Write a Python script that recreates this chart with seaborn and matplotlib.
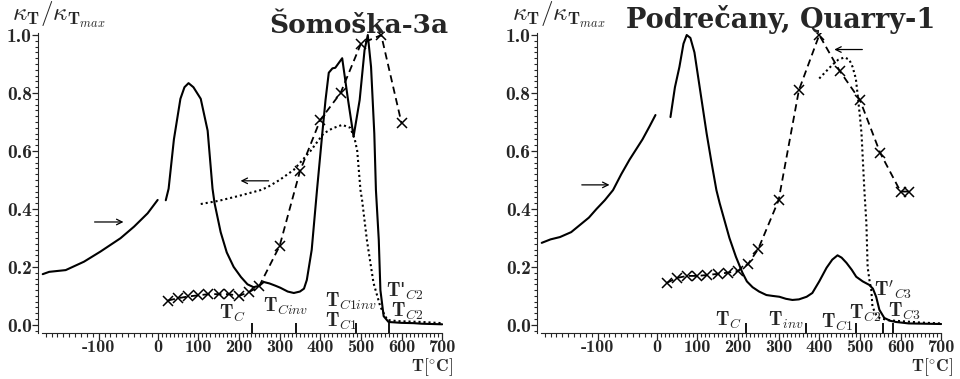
import numpy as np
import matplotlib
matplotlib.use("Agg")
import matplotlib.pyplot as plt
import seaborn as sns

# --- data (T in degC, kappa normalised) ---
# Somoska-3a
s_low_T = [-195, -184, -156, -125, -97, -63, -40, -17, 0]
s_low_k = [0.175, 0.183, 0.189, 0.218, 0.253, 0.299, 0.339, 0.385, 0.431]
s_heat_T = [20, 27, 40, 56, 66, 76, 88, 106, 123, 135, 140, 155, 170, 187, 205, 221, 236, 250,
            261, 275, 290, 302, 320, 335, 350, 360, 367, 379, 392, 405, 413, 421, 430, 437, 454,
            468, 482, 497, 509, 517, 525, 533, 537, 544, 548, 556, 568, 600, 630, 650, 700]
s_heat_k = [0.43, 0.47, 0.64, 0.78, 0.82, 0.834, 0.82, 0.78, 0.67, 0.47, 0.42, 0.32, 0.25, 0.2, 0.165,
            0.14, 0.13, 0.135, 0.148, 0.143, 0.135, 0.128, 0.115, 0.11, 0.115, 0.125, 0.155, 0.259,
            0.465, 0.66, 0.776, 0.87, 0.885, 0.887, 0.92, 0.78, 0.65, 0.776, 0.948, 1.0, 0.89, 0.66,
            0.465, 0.293, 0.12, 0.03, 0.01, 0.007, 0.006, 0.004, 0.002]
s_cool_T = [106, 150, 200, 253, 270, 300, 335, 376, 408, 430, 454, 474, 485, 491, 499, 503, 515,
            531, 548, 565, 590, 650, 700]
s_cool_k = [0.417, 0.428, 0.445, 0.465, 0.475, 0.5, 0.535, 0.6, 0.66, 0.678, 0.69, 0.68, 0.64, 0.6,
            0.465, 0.43, 0.29, 0.145, 0.062, 0.017, 0.013, 0.01, 0.006]
s_mark_T = [25, 50, 75, 100, 125, 150, 175, 200, 225, 250, 300, 350, 400, 450, 500, 550, 600]
s_mark_k = [0.084, 0.092, 0.098, 0.102, 0.106, 0.106, 0.106, 0.1, 0.113, 0.134, 0.272, 0.53, 0.707,
            0.80, 0.97, 1.0, 0.696]
s_tc = [231, 341, 487, 570]

# Podrecany, Quarry-1
p_low_T = [-195, -180, -164, -145, -130, -115, -102, -88, -74, -60, -46, -35, -24, -12, -2]
p_low_k = [0.283, 0.295, 0.303, 0.32, 0.345, 0.37, 0.40, 0.43, 0.465, 0.52, 0.57, 0.605, 0.64,
           0.685, 0.724]
p_heat_T = [34, 45, 56, 66, 74, 83, 93, 108, 123, 135, 147, 155, 167, 179, 195, 211, 222, 236, 252,
            270, 285, 302, 318, 334, 350, 369, 383, 400, 418, 432, 445, 455, 467, 480, 491, 507,
            523, 532, 540, 548, 560, 575, 589, 620, 660, 700]
p_heat_k = [0.717, 0.82, 0.89, 0.97, 1.0, 0.99, 0.94, 0.8, 0.66, 0.56, 0.465, 0.42, 0.36, 0.30,
            0.235, 0.18, 0.15, 0.13, 0.115, 0.103, 0.1, 0.097, 0.09, 0.086, 0.088, 0.097, 0.11,
            0.15, 0.197, 0.225, 0.24, 0.232, 0.214, 0.19, 0.166, 0.15, 0.138, 0.125, 0.097, 0.052,
            0.024, 0.014, 0.01, 0.005, 0.004, 0.003]
p_cool_T = [400, 415, 432, 447, 462, 474, 482, 490, 494, 500, 504, 511, 516, 519, 524, 528, 531,
            540, 548, 570, 600, 650, 700]
p_cool_k = [0.85, 0.872, 0.897, 0.915, 0.923, 0.915, 0.89, 0.85, 0.80, 0.72, 0.66, 0.465, 0.35,
            0.2, 0.15, 0.12, 0.062, 0.035, 0.024, 0.016, 0.013, 0.008, 0.005]
p_mark_T = [25, 50, 75, 100, 125, 150, 175, 200, 225, 250, 300, 350, 400, 450, 500, 550, 600, 620]
p_mark_k = [0.145, 0.162, 0.169, 0.169, 0.172, 0.176, 0.18, 0.186, 0.21, 0.262, 0.43, 0.81, 1.0,
            0.877, 0.776, 0.593, 0.46, 0.46]
p_tc = [219, 368, 491, 558, 582]

x_major = [-100, 0, 100, 200, 300, 400, 500, 600, 700]
y_major = [0.0, 0.2, 0.4, 0.6, 0.8, 1.0]

sns.set_style("ticks")
plt.rcParams["mathtext.fontset"] = "cm"
plt.rcParams["axes.unicode_minus"] = False

R = 1.45  # negative temperatures are stretched on the axis


def fwd(t):
    t = np.asarray(t, dtype=float)
    return np.where(t < 0, t * R, t)


def inv(u):
    u = np.asarray(u, dtype=float)
    return np.where(u < 0, u / R, u)


fig = plt.figure(figsize=(9.6, 3.79), dpi=100)
ax1 = fig.add_axes([38 / 960, 46 / 379, 405 / 960, 300 / 379])
ax2 = fig.add_axes([537 / 960, 46 / 379, 405 / 960, 300 / 379])

lw = 1.5
dot = (0, (1, 1.4))
dash = (0, (4, 2.5))


def panel(ax, lowT, lowk, heatT, heatk, coolT, coolk, markT, markk):
    sns.lineplot(x=lowT, y=lowk, ax=ax, color="k", lw=lw, sort=False, estimator=None)
    sns.lineplot(x=heatT, y=heatk, ax=ax, color="k", lw=lw, sort=False, estimator=None)
    sns.lineplot(x=coolT, y=coolk, ax=ax, color="k", lw=lw, linestyle=dot, sort=False, estimator=None)
    sns.lineplot(x=markT, y=markk, ax=ax, color="k", lw=1.3, linestyle=dash, marker="x",
                 markersize=6.5, markeredgecolor="k", markeredgewidth=1.1, sort=False, estimator=None)
    ax.set_xscale("function", functions=(fwd, inv))
    ax.set_xlim(-203, 702)
    ax.set_ylim(-0.028, 1.007)
    ax.set_xticks(x_major)
    ax.set_xticklabels([str(v) for v in x_major], fontfamily="cmb10", fontsize=13)
    ax.set_xticks([v for v in range(-190, 701, 10) if v % 100 != 0], minor=True)
    ax.set_yticks(y_major)
    ax.set_yticklabels(["%.1f" % v for v in y_major], fontfamily="cmb10", fontsize=14)
    ax.set_yticks(np.arange(-0.02, 1.001, 0.02), minor=True)
    ax.tick_params(axis="x", which="major", direction="out", length=5, width=0.9, pad=0)
    ax.tick_params(axis="x", which="minor", direction="out", length=3, width=0.8)
    ax.tick_params(axis="y", which="major", direction="out", length=4, width=0.9, pad=0.5)
    ax.tick_params(axis="y", which="minor", direction="out", length=2.5, width=0.8)
    ax.spines["bottom"].set_bounds(-196, 700)
    for s in ["top", "right"]:
        ax.spines[s].set_visible(False)
    ax.set_xlabel("")
    ax.set_ylabel("")
    ax.patch.set_alpha(0)


panel(ax1, s_low_T, s_low_k, s_heat_T, s_heat_k, s_cool_T, s_cool_k, s_mark_T, s_mark_k)
panel(ax2, p_low_T, p_low_k, p_heat_T, p_heat_k, p_cool_T, p_cool_k, p_mark_T, p_mark_k)

arr = dict(arrowstyle="->", lw=0.9, color="k", shrinkA=0, shrinkB=0)
ax1.annotate("", xy=(-58, 0.355), xytext=(-107, 0.355), arrowprops=arr)
ax1.annotate("", xy=(204, 0.497), xytext=(273, 0.497), arrowprops=arr)
ax2.annotate("", xy=(-80, 0.483), xytext=(-127, 0.483), arrowprops=arr)
ax2.annotate("", xy=(437, 0.95), xytext=(506, 0.95), arrowprops=arr)

ax1.vlines(s_tc, -0.028, 0.007, color="k", lw=1.3)
ax2.vlines(p_tc, -0.028, 0.007, color="k", lw=1.3)

fs = 14
ax1.text(150, 0.041, r"$\mathbf{T}_{C}$", fontsize=fs, va="center")
ax1.text(258, 0.064, r"$\mathbf{T}_{Cinv}$", fontsize=fs, va="center")
ax1.text(411, 0.080, r"$\mathbf{T}_{C1inv}$", fontsize=fs, va="center")
ax1.text(411, 0.013, r"$\mathbf{T}_{C1}$", fontsize=fs, va="center")
ax1.text(563, 0.115, r"$\mathbf{T}$'$_{C2}$", fontsize=fs, va="center")
ax1.text(575, 0.048, r"$\mathbf{T}_{C2}$", fontsize=fs, va="center")

ax2.text(143, 0.017, r"$\mathbf{T}_{C}$", fontsize=fs, va="center")
ax2.text(273, 0.017, r"$\mathbf{T}_{inv}$", fontsize=fs, va="center")
ax2.text(404, 0.01, r"$\mathbf{T}_{C1}$", fontsize=fs, va="center")
ax2.text(472, 0.040, r"$\mathbf{T}_{C2}$", fontsize=fs, va="center")
ax2.text(534, 0.117, r"$\mathbf{T}'_{C3}$", fontsize=fs, va="center")
ax2.text(568, 0.047, r"$\mathbf{T}_{C3}$", fontsize=fs, va="center")

ylab = r"$\kappa_{\mathbf{T}}/\kappa_{\mathbf{T}_{max}}$"
fig.text(12 / 960, 1 - 15 / 379, ylab, fontsize=18, va="center", ha="left")
fig.text(512 / 960, 1 - 15 / 379, ylab, fontsize=18, va="center", ha="left")

xlab = r"$\mathbf{T}[^{\circ}\mathbf{C}]$"
fig.text(453 / 960, 1 / 379, xlab, fontsize=12.5, va="bottom", ha="right")
fig.text(953 / 960, 1 / 379, xlab, fontsize=12.5, va="bottom", ha="right")

fig.text(448 / 960, 1 - 33 / 379, "Šomoška-3a", fontfamily="DejaVu Serif", fontweight="bold",
         fontsize=19, ha="right", va="baseline")
fig.text(935 / 960, 1 - 28 / 379, "Podrečany, Quarry-1", fontfamily="DejaVu Serif",
         fontweight="bold", fontsize=19.5, ha="right", va="baseline")

fig.savefig("out.png", dpi=100)
